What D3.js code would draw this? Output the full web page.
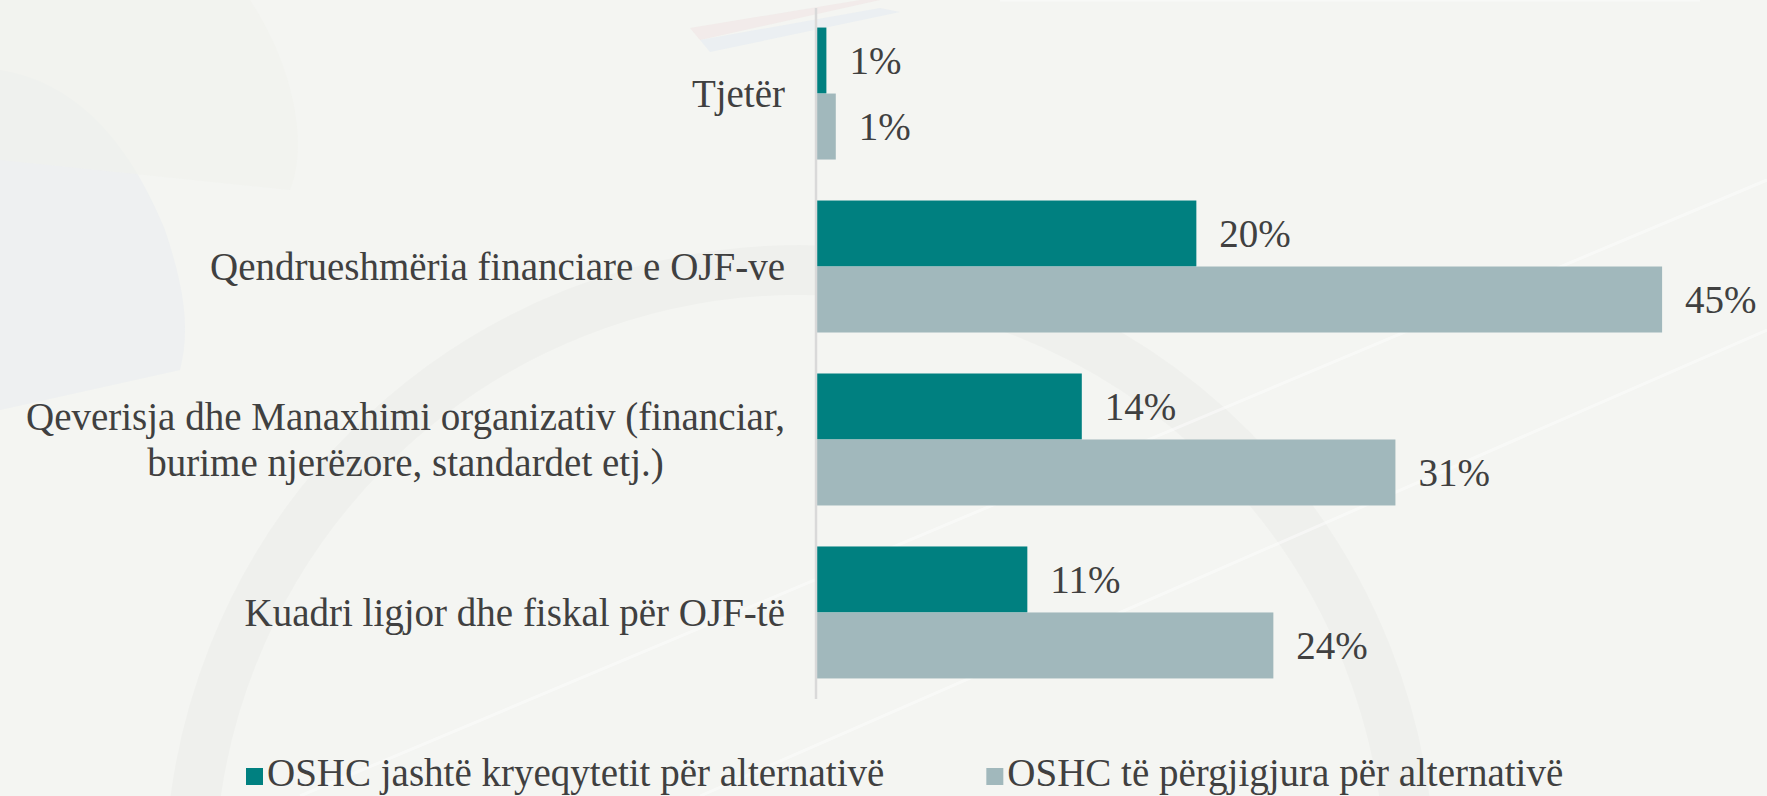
<!DOCTYPE html>
<html>
<head>
<meta charset="utf-8">
<script src="https://cdn.jsdelivr.net/npm/d3@7"></script>
<style>
  html, body { margin: 0; padding: 0; background: #f4f5f2; }
  svg { display: block; }
  svg text { font-family: "Liberation Serif", Tinos, "Times New Roman"; }
</style>
</head>
<body>
<svg id="chart" width="1767" height="796"></svg>
<script>
// data (percent)
const categories = [
    'Tjetër',
    'Qendrueshmëria financiare e OJF-ve',
    'Qeverisja dhe Manaxhimi organizativ (financiar, burime njerëzore, standardet etj.)',
    'Kuadri ligjor dhe fiskal për OJF-të'
];
const seriesNames = ['OSHC jashtë kryeqytetit për alternativë', 'OSHC të përgjigjura për alternativë'];
const outsideCapital = [0.5, 20.2, 14.1, 11.2];
const responded = [1, 45, 30.8, 24.3];
const colors = ['#008080', '#a1b8bc'];

const svg = d3.select('#chart');
const width = +svg.attr('width');
const height = +svg.attr('height');
const fontSize = 39;
const textColor = '#404040';

function draw() {
    // faint background decoration
    const bg = svg.append('g');
    bg.append('rect').attr('width', width).attr('height', height).attr('fill', '#f4f5f2');
    bg.append('path')
        .attr('d', 'M0,70 C60,80 120,120 165,230 C185,290 190,330 180,370 L0,410 Z')
        .attr('fill', '#eaecf0').attr('opacity', 0.6);
    bg.append('path')
        .attr('d', 'M0,0 L250,0 C290,60 310,140 290,190 L0,160 Z')
        .attr('fill', '#f0f2ec').attr('opacity', 0.6);
    bg.append('circle')
        .attr('cx', 800).attr('cy', 880).attr('r', 610)
        .attr('fill', 'none').attr('stroke', '#000').attr('stroke-opacity', 0.02).attr('stroke-width', 50);
    [[700, 796, 1767, 330], [300, 796, 1767, 180], [1000, 0, 1700, 0]].forEach(l => {
        bg.append('line').attr('x1', l[0]).attr('y1', l[1]).attr('x2', l[2]).attr('y2', l[3])
            .attr('stroke', '#fff').attr('stroke-width', 3).attr('opacity', 0.45);
    });
    bg.append('path')
        .attr('d', 'M690,28 L860,0 L880,0 L700,40 Z').attr('fill', '#f0e2e2').attr('opacity', 0.5);
    bg.append('path')
        .attr('d', 'M700,40 L880,8 L900,12 L710,52 Z').attr('fill', '#e4ebf2').attr('opacity', 0.6);

    const x = d3.scaleLinear().domain([0, 50]).range([817, 1756]);
    const y0 = d3.scaleBand().domain(categories).range([8, 698]).paddingInner(0.237).paddingOuter(0.113);
    const y1 = d3.scaleBand().domain([0, 1]).range([0, y0.bandwidth()]);

    const rows = categories.map((c, i) => ({ cat: c, vals: [outsideCapital[i], responded[i]] }));

    function styleText(sel) {
        return sel.attr('font-size', fontSize).attr('fill', textColor);
    }

    const groups = svg.selectAll('.grp')
        .data(rows)
        .enter()
        .append('g')
        .attr('class', 'grp')
        .attr('transform', d => `translate(0,${y0(d.cat)})`);

    groups.selectAll('rect')
        .data(d => d.vals.map((v, k) => ({ v, k })))
        .enter()
        .append('rect')
        .attr('x', x(0))
        .attr('y', d => y1(d.k))
        .attr('width', d => x(d.v) - x(0))
        .attr('height', y1.bandwidth())
        .attr('fill', d => colors[d.k]);

    groups.selectAll('.val')
        .data(d => d.vals.map((v, k) => ({ v, k })))
        .enter()
        .append('text')
        .attr('class', 'val')
        .attr('x', d => x(d.v) + 23)
        .attr('y', d => y1(d.k) + y1.bandwidth() / 2)
        .attr('dy', '0.34em')
        .call(styleText)
        .text(d => Math.round(d.v) + '%');

    // vertical axis line
    svg.append('line')
        .attr('x1', 816).attr('x2', 816)
        .attr('y1', 8).attr('y2', 699)
        .attr('stroke', '#d9d9d9').attr('stroke-width', 2.5);

    // category labels, wrapped and centred like the original
    const labelRight = 785;
    const maxW = 770;
    groups.each(function (d) {
        const g = d3.select(this);
        const words = d.cat.split(' ');
        const probe = g.append('text').call(styleText);
        const lines = [];
        let cur = [];
        words.forEach(w => {
            const test = cur.concat(w).join(' ');
            probe.text(test);
            if (probe.node().getComputedTextLength() > maxW && cur.length) {
                lines.push(cur.join(' '));
                cur = [w];
            } else {
                cur.push(w);
            }
        });
        lines.push(cur.join(' '));
        const widths = lines.map(l => { probe.text(l); return probe.node().getComputedTextLength(); });
        probe.remove();
        const blockW = d3.max(widths);
        const cx = labelRight - blockW / 2;
        const lh = 46;
        const mid = y0.bandwidth() / 2;
        const t = g.append('text')
            .attr('text-anchor', 'middle')
            .call(styleText);
        lines.forEach((l, i) => {
            t.append('tspan')
                .attr('x', cx)
                .attr('y', mid + (i - (lines.length - 1) / 2) * lh)
                .attr('dy', '0.34em')
                .text(l);
        });
    });

    // legend
    const legend = svg.append('g');
    let lx = 246;
    seriesNames.forEach((name, i) => {
        legend.append('rect')
            .attr('x', lx).attr('y', 768)
            .attr('width', 17).attr('height', 17)
            .attr('fill', colors[i]);
        const t = legend.append('text')
            .attr('x', lx + 21).attr('y', 786)
            .call(styleText)
            .text(name);
        lx = lx + 21 + t.node().getComputedTextLength() + 102;
    });
}

if (document.fonts && document.fonts.ready) {
    document.fonts.ready.then(draw);
} else {
    draw();
}
</script>
</body>
</html>
